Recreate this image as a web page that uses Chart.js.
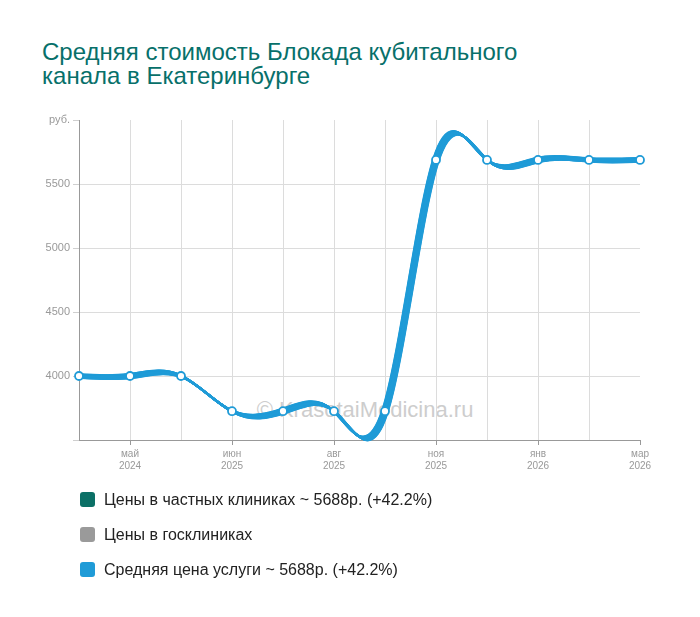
<!DOCTYPE html>
<html><head><meta charset="utf-8">
<script src="https://cdn.jsdelivr.net/npm/chart.js@4/dist/chart.umd.min.js"></script>
<style>
html,body{margin:0;padding:0;background:#fff;}
#wrap{position:relative;width:700px;height:617px;overflow:hidden;font-family:'Liberation Sans',Arial,sans-serif;}
#title{position:absolute;left:42px;top:40px;font-size:24px;line-height:24px;color:#07706a;}
#wm{position:absolute;left:365px;top:410px;transform:translate(-50%,-50%);font-size:22px;color:#cdcdcd;white-space:nowrap;z-index:0}
canvas{position:absolute;left:0;top:0;z-index:1}
#legend{position:absolute;left:80px;top:482px;z-index:2}
.item{display:flex;align-items:center;height:35px;font-size:16px;color:#222}
.sw{width:15px;height:15px;border-radius:3px;margin-right:9px;flex:none}
</style></head>
<body><div id="wrap">
<div id="title">Средняя стоимость Блокада кубитального<br>канала в Екатеринбурге</div>
<div id="wm">© KrasotaiMedicina.ru</div>
<canvas id="c" width="700" height="617"></canvas>
<div id="legend"></div>
</div>
<script>
const months = ['', 'май', '', 'июн', '', 'авг', '', 'ноя', '', 'янв', '', 'мар'];
const years  = ['', '2024', '', '2025', '', '2025', '', '2025', '', '2026', '', '2026'];
const privatePrices = [4000, 4000, 4000, 3725, 3725, 3725, 3725, 5688, 5688, 5688, 5688, 5688];
const publicPrices  = [null, null, null, null, null, null, null, null, null, null, null, null];
const averagePrices = [4000, 4000, 4000, 3725, 3725, 3725, 3725, 5688, 5688, 5688, 5688, 5688];
const seriesNames = ['Цены в частных клиниках', 'Цены в госклиниках', 'Средняя цена услуги'];
const seriesColors = ['#0b7066', '#9a9a9a', '#1f9bd7'];
const yTickLabels = {6000: 'руб.', 3500: ''};

const labels = months.map((m, i) => m ? [m, years[i]] : '');

function naturalSpline(meta, area) {
  const line = meta.dataset;
  if (!line) return;
  line.updateControlPoints(area, 'x');
  const pts = meta.data.filter(p => !p.skip && isFinite(p.y));
  const n = pts.length;
  if (n < 3) return;
  const h = [], M = new Array(n).fill(0);
  for (let i = 0; i < n - 1; i++) h.push(pts[i + 1].x - pts[i].x);
  const a = [], b = [], c = [], d = [];
  for (let i = 1; i < n - 1; i++) {
    a.push(h[i - 1]); b.push(2 * (h[i - 1] + h[i])); c.push(h[i]);
    d.push(6 * ((pts[i + 1].y - pts[i].y) / h[i] - (pts[i].y - pts[i - 1].y) / h[i - 1]));
  }
  const m = b.length;
  for (let i = 1; i < m; i++) {
    const w = a[i] / b[i - 1];
    b[i] -= w * c[i - 1]; d[i] -= w * d[i - 1];
  }
  const sol = new Array(m);
  sol[m - 1] = d[m - 1] / b[m - 1];
  for (let i = m - 2; i >= 0; i--) sol[i] = (d[i] - c[i] * sol[i + 1]) / b[i];
  for (let i = 0; i < m; i++) M[i + 1] = sol[i];
  const deriv = new Array(n);
  for (let i = 0; i < n - 1; i++) deriv[i] = (pts[i + 1].y - pts[i].y) / h[i] - h[i] * (2 * M[i] + M[i + 1]) / 6;
  deriv[n - 1] = (pts[n - 1].y - pts[n - 2].y) / h[n - 2] + h[n - 2] * (M[n - 2] + 2 * M[n - 1]) / 6;
  for (let i = 0; i < n; i++) {
    const p = pts[i];
    const hp = i > 0 ? h[i - 1] : 0, hn = i < n - 1 ? h[i] : 0;
    p.cp1x = p.x - hp / 3; p.cp1y = p.y - deriv[i] * hp / 3;
    p.cp2x = p.x + hn / 3; p.cp2y = p.y + deriv[i] * hn / 3;
  }
  line._pointsUpdated = true;
  line._path = undefined;
}

const splinePlugin = {
  id: 'naturalSpline',
  beforeDatasetsDraw(chart) {
    chart.getSortedVisibleDatasetMetas().forEach(meta => naturalSpline(meta, chart.chartArea));
  },
  beforeDatasetDraw(chart, args) {
    const ds = chart.data.datasets[args.index];
    if (!ds.smear) return;
    const ctx = chart.ctx;
    for (let k = -2.4; k <= 2.41; k += 0.3) {
      naturalSpline(args.meta, chart.chartArea);
      ctx.save();
      ctx.translate(k, 0.75 * k);
      args.meta.dataset.draw(ctx, chart.chartArea);
      ctx.restore();
    }
    naturalSpline(args.meta, chart.chartArea);
  }
};

const chart = new Chart(document.getElementById('c'), {
  type: 'line',
  data: {
    labels: labels,
    datasets: [
      { label: seriesNames[2], data: averagePrices, borderColor: seriesColors[2], borderWidth: 2.2,
        pointRadius: 4, pointBackgroundColor: '#fff', pointBorderColor: seriesColors[2], pointBorderWidth: 1.8,
        tension: 0.4, clip: false, order: 0, smear: true },
      { label: seriesNames[0], data: privatePrices, borderColor: seriesColors[0], borderWidth: 1.6,
        pointRadius: 0, tension: 0.4, clip: false, order: 1 },
      { label: seriesNames[1], data: publicPrices, borderColor: seriesColors[1], borderWidth: 2,
        pointRadius: 0, tension: 0.4, clip: false, order: 2 }
    ]
  },
  options: {
    responsive: false,
    animation: false,
    events: [],
    layout: { padding: { top: 120, right: 60, bottom: 0, left: 0 } },
    plugins: { legend: { display: false }, tooltip: { enabled: false }, title: { display: false } },
    scales: {
      x: {
        afterFit: s => { s.height = 177; },
        border: { color: '#999', width: 1 },
        grid: {
          color: c => (c.index === 0 || c.index === labels.length - 1) ? 'rgba(0,0,0,0)' : '#dcdcdc',
          tickColor: c => months[c.index] ? '#999' : 'rgba(0,0,0,0)',
          tickLength: 5, drawTicks: true
        },
        ticks: { autoSkip: false, maxRotation: 0, padding: 3, color: '#999',
                 font: { family: "'Liberation Sans', Arial, sans-serif", size: 10 } }
      },
      y: {
        min: 3500, max: 6000,
        afterFit: s => { s.width = 79; },
        border: { color: '#999', width: 1 },
        grid: {
          color: c => (c.tick && c.tick.value === 6000) ? 'rgba(0,0,0,0)' : '#dcdcdc',
          tickColor: '#cfcfcf', tickLength: 6
        },
        ticks: { stepSize: 500, padding: 3, color: '#999',
                 font: { family: "'Liberation Sans', Arial, sans-serif", size: 11 },
                 callback: v => (v in yTickLabels) ? yTickLabels[v] : String(v) }
      }
    }
  },
  plugins: [splinePlugin]
});

// HTML legend built from the series arrays
const allSeries = [privatePrices, publicPrices, averagePrices];
const legend = document.getElementById('legend');
allSeries.forEach((arr, i) => {
  const vals = arr.filter(v => v !== null);
  let text = seriesNames[i];
  if (vals.length) {
    const first = vals[0], last = vals[vals.length - 1];
    const pct = (last / first - 1) * 100;
    text += ' ~ ' + last + 'р. (' + (pct >= 0 ? '+' : '') + pct.toFixed(1) + '%)';
  }
  const item = document.createElement('div'); item.className = 'item';
  const sw = document.createElement('div'); sw.className = 'sw'; sw.style.background = seriesColors[i];
  const t = document.createElement('span'); t.textContent = text;
  item.appendChild(sw); item.appendChild(t); legend.appendChild(item);
});
</script>
</body></html>
